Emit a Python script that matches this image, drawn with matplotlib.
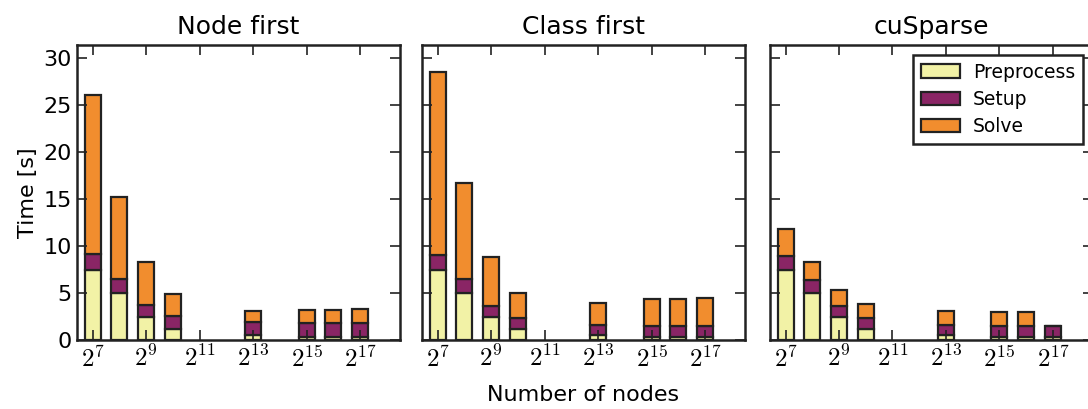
import matplotlib
matplotlib.use("Agg")
import matplotlib.pyplot as plt
import numpy as np

plt.rcParams['mathtext.fontset'] = 'cm'

nodes = 2.0 ** np.array([7, 8, 9, 10, 13, 15, 16, 17])
tick_exp = [7, 9, 11, 13, 15, 17]
titles = ["Node first", "Class first", "cuSparse"]

# stacked times [s]: preprocess, setup, solve
preprocess = [7.5, 5.0, 2.4, 1.2, 0.57, 0.35, 0.35, 0.35]
setup = {
    "Node first": [1.65, 1.5, 1.3, 1.35, 1.3, 1.43, 1.43, 1.43],
    "Class first": [1.55, 1.45, 1.25, 1.15, 1.03, 1.14, 1.14, 1.14],
    "cuSparse": [1.45, 1.4, 1.25, 1.1, 1.03, 1.14, 1.14, 1.14],
}
solve = {
    "Node first": [16.95, 8.75, 4.6, 2.3, 1.25, 1.42, 1.42, 1.5],
    "Class first": [19.45, 10.25, 5.2, 2.6, 2.3, 2.88, 2.88, 2.98],
    "cuSparse": [2.85, 1.88, 1.67, 1.52, 1.49, 1.46, 1.46, 0.0],
}

labels = ["Preprocess", "Setup", "Solve"]
colors = ["#F2F2A6", "#8A2565", "#F18D2E"]

fig = plt.figure(figsize=(10.88, 4.09), dpi=100)
W, H = 1088.0, 409.0
lefts = [76.7, 421.7, 769.5]
axw = 323.5
bottom = (H - 340) / H
height = (340 - 45) / H

half = 2 ** 0.3
axes = []
for i, name in enumerate(titles):
    ax = fig.add_axes([lefts[i] / W, bottom, axw / W, height])
    axes.append(ax)
    ax.set_xscale('log', base=2)
    left_edge = nodes / half
    width = nodes * half - nodes / half
    base = np.zeros(len(nodes))
    for vals, lab, c in zip([preprocess, setup[name], solve[name]], labels, colors):
        vals = np.array(vals)
        ax.bar(left_edge, vals, width=width, bottom=base, align='edge',
               color=c, edgecolor='#222222', linewidth=1.6, label=lab)
        base = base + vals
    ax.set_xlim(2 ** 6.4, 2 ** 18.5)
    ax.set_ylim(0, 31.4)
    ax.set_xticks(2.0 ** np.array(tick_exp))
    ax.set_xticklabels(['$2^{%d}$' % e for e in tick_exp])
    ax.xaxis.set_minor_locator(matplotlib.ticker.NullLocator())
    ax.set_yticks(range(0, 31, 5))
    ax.tick_params(direction='in', top=True, right=True, length=7, width=1.2,
                   labelsize=16, color='#222222')
    ax.tick_params(axis='x', labelsize=18, pad=4)
    for sp in ax.spines.values():
        sp.set_linewidth(1.8)
        sp.set_color('#222222')
    ax.set_title(name, fontsize=18, pad=8)
    if i > 0:
        ax.set_yticklabels([])

axes[0].set_ylabel("Time [s]", fontsize=16)
axes[1].set_xlabel("Number of nodes", fontsize=16, labelpad=10)
leg = axes[2].legend(loc='upper right', fontsize=13.5, fancybox=False,
                     edgecolor='#222222', framealpha=1, handlelength=2.1,
                     handletextpad=0.7, labelspacing=0.45, borderpad=0.4,
                     borderaxespad=0, bbox_to_anchor=(0.969, 0.966))
leg.get_frame().set_linewidth(1.8)

fig.savefig("out.png", dpi=100)
